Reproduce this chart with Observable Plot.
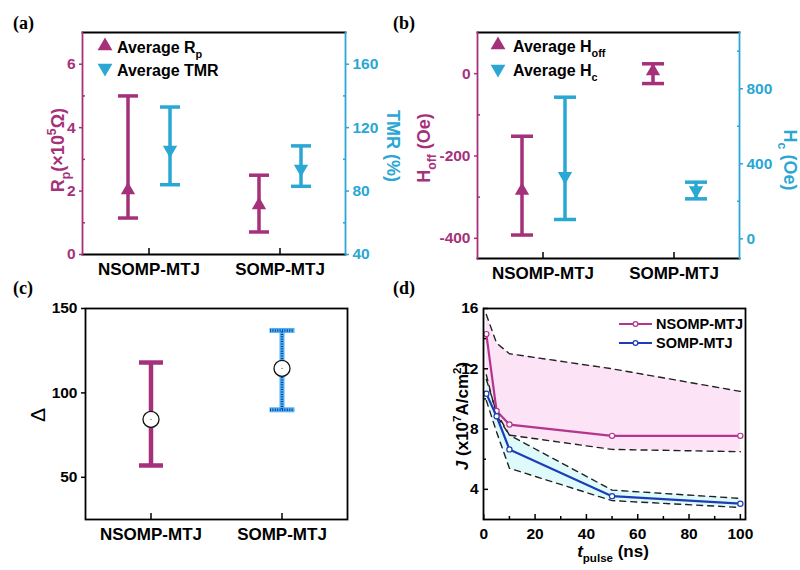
<!DOCTYPE html>
<html><head><meta charset="utf-8">
<script src="https://cdn.jsdelivr.net/npm/d3@7"></script>
<script src="https://cdn.jsdelivr.net/npm/@observablehq/plot@0.6"></script>
<style>
body{margin:0;background:#fff;}
#wrap{position:relative;width:800px;height:570px;overflow:hidden;background:#fff;}
</style></head><body><div id="wrap"></div>
<script>
// ---------- data ----------
const categories = ["NSOMP-MTJ", "SOMP-MTJ"];
// (a)
const rpAvg = [2.03, 1.56];
const rpLow = [1.15, 0.71];
const rpHigh = [5.0, 2.5];
const tmrAvg = [106, 94];
const tmrLow = [84, 83];
const tmrHigh = [133, 108.5];
const rpTicks = [0, 2, 4, 6], rpMinor = [1, 3, 5];
const tmrTicks = [40, 80, 120, 160], tmrMinor = [60, 100, 140];
// (b)
const hoffAvg = [-284, 6];
const hoffLow = [-392, -24];
const hoffHigh = [-152, 24];
const hcAvg = [334, 258];
const hcLow = [103, 213];
const hcHigh = [755, 302];
const hoffTicks = [-400, -200, 0], hoffMinor = [-300, -100];
const hcTicks = [0, 400, 800], hcMinor = [200, 600, 1000];
// (c)
const deltaAvg = [84.3, 114.5];
const deltaLow = [57, 90];
const deltaHigh = [118, 137];
const deltaTicks = [50, 100, 150];
// (d)
const tPulse = [1, 5, 10, 50, 100];
const jNsomp = [14.3, 9.2, 8.3, 7.55, 7.55];
const jSomp = [10.35, 8.85, 6.65, 3.55, 3.05];
const nsompUpper = [15.6, 13.7, 13.0, 12.0, 10.5];
const nsompLower = [11.6, 8.9, 7.6, 6.65, 6.5];
const sompUpper = [11.3, 9.1, 7.6, 3.95, 3.4];
const sompLower = [9.9, 7.8, 5.4, 3.25, 2.8];
const tTicks = [0, 20, 40, 60, 80, 100], tMinor = [10, 30, 50, 70, 90];
const jTicks = [4, 8, 12, 16], jMinor = [6, 10, 14];

// ---------- style ----------
const FONT = "'Liberation Sans', Arial, sans-serif";
const SERIF = "'Liberation Serif', 'Times New Roman', serif";
const MAG = "#a5317b", CYA = "#2aa7d3", PINK = "#b2368f", BLUE = "#1d3db7";
const wrap = document.getElementById("wrap");
const idx = [0, 1];

function place(svg, left, top) {
  Object.assign(svg.style, {position: "absolute", left: left + "px", top: top + "px", maxWidth: "none", overflow: "visible", background: "transparent"});
  wrap.appendChild(svg);
}
const base = (w, h, m) => ({
  width: w, height: h, marginLeft: m[0], marginRight: m[1], marginTop: m[2], marginBottom: m[3],
  style: {fontFamily: FONT, fontWeight: "bold", fontSize: "15.5px", background: "transparent", overflow: "visible"}
});
const cap = {draw(ctx, size) { const r = Math.sqrt(size / Math.PI); ctx.moveTo(-r, 0); ctx.lineTo(r, 0); }};
const fmt = d => String(d);

function errBar(ids, lo, hi, o) {
  const common = {x: i => categories[i], stroke: o.stroke, strokeWidth: o.strokeWidth ?? 3.5, dx: o.dx ?? 0};
  if (o.dash) common.strokeDasharray = o.dash;
  return [
    Plot.ruleX(ids, {...common, y1: i => lo[i], y2: i => hi[i]}),
    Plot.dot(ids, {...common, y: i => lo[i], symbol: cap, r: o.capR ?? 10, fill: "none"}),
    Plot.dot(ids, {...common, y: i => hi[i], symbol: cap, r: o.capR ?? 10, fill: "none"})
  ];
}
function catAxes() {
  return [
    Plot.axisX({tickSize: -6, tickFormat: () => "", label: null, color: "#000", strokeWidth: 1.5}),
    Plot.axisX({tickSize: 0, tickPadding: 8, fontSize: 17, label: null, color: "#000"})
  ];
}
function yAxes(anchor, ticks, minor, color) {
  return [
    Plot.axisY({anchor, ticks, tickSize: 3, tickPadding: 4, tickFormat: fmt, color, label: null, strokeWidth: 1.5}),
    Plot.axisY({anchor, ticks: minor, tickSize: -3, tickFormat: () => "", color, label: null, strokeWidth: 1.5})
  ];
}

// ---------- (a) ----------
const ma = [82, 55, 32, 26];
place(Plot.plot({
  ...base(400, 280, ma),
  x: {type: "band", domain: categories, padding: 0},
  y: {domain: [0, 7]},
  marks: [
    Plot.frame({anchor: "top", stroke: "#000", strokeWidth: 1.8}),
    Plot.frame({anchor: "bottom", stroke: "#000", strokeWidth: 1.8}),
    Plot.frame({anchor: "left", stroke: MAG, strokeWidth: 1.8}),
    ...catAxes(),
    ...yAxes("left", rpTicks, rpMinor, MAG),
    ...errBar(idx, rpLow, rpHigh, {stroke: MAG, dx: -21}),
    Plot.dot(idx, {x: i => categories[i], y: i => rpAvg[i], symbol: "triangle", r: 5.3, fill: MAG, dx: -21})
  ]
}), 0, 0);
place(Plot.plot({
  ...base(400, 280, ma),
  x: {type: "band", domain: categories, padding: 0, axis: null},
  y: {domain: [40, 180]},
  marks: [
    Plot.frame({anchor: "right", stroke: CYA, strokeWidth: 1.8}),
    ...yAxes("right", tmrTicks, tmrMinor, CYA),
    ...errBar(idx, tmrLow, tmrHigh, {stroke: CYA, dx: 21}),
    Plot.dot(idx, {x: i => categories[i], y: i => tmrAvg[i], symbol: "triangle", rotate: 180, r: 5.3, fill: CYA, dx: 21})
  ]
}), 0, 0);

// ---------- (b) ----------
const mb = [77, 61, 32, 22];
place(Plot.plot({
  ...base(400, 280, mb),
  x: {type: "band", domain: categories, padding: 0},
  y: {domain: [-449, 100]},
  marks: [
    Plot.frame({anchor: "top", stroke: "#000", strokeWidth: 1.8}),
    Plot.frame({anchor: "bottom", stroke: "#000", strokeWidth: 1.8}),
    Plot.frame({anchor: "left", stroke: MAG, strokeWidth: 1.8}),
    ...catAxes(),
    ...yAxes("left", hoffTicks, hoffMinor, MAG),
    ...errBar(idx, hoffLow, hoffHigh, {stroke: MAG, dx: -21, capR: 11}),
    Plot.dot(idx, {x: i => categories[i], y: i => hoffAvg[i], symbol: "triangle", r: 5.3, fill: MAG, dx: -21})
  ]
}), 400, 0);
place(Plot.plot({
  ...base(400, 280, mb),
  x: {type: "band", domain: categories, padding: 0, axis: null},
  y: {domain: [-105, 1100]},
  marks: [
    Plot.frame({anchor: "right", stroke: CYA, strokeWidth: 1.8}),
    ...yAxes("right", hcTicks, hcMinor, CYA),
    ...errBar(idx, hcLow, hcHigh, {stroke: CYA, dx: 22, capR: 11}),
    Plot.dot(idx, {x: i => categories[i], y: i => hcAvg[i], symbol: "triangle", rotate: 180, r: 5.3, fill: CYA, dx: 22})
  ]
}), 400, 0);

// ---------- (c) ----------
place(Plot.plot({
  ...base(400, 290, [85, 53, 28, 51]),
  x: {type: "band", domain: categories, padding: 0},
  y: {domain: [25, 150]},
  marks: [
    Plot.frame({stroke: "#000", strokeWidth: 1.8}),
    ...catAxes(),
    Plot.axisY({ticks: deltaTicks, tickSize: 4, tickPadding: 4, tickFormat: fmt, color: "#000", label: null, strokeWidth: 1.5}),
    ...errBar([0], deltaLow, deltaHigh, {stroke: MAG, strokeWidth: 4.5, capR: 12}),
    ...errBar([1], deltaLow, deltaHigh, {stroke: "#4db3ee", strokeWidth: 5, capR: 12.5}),
    ...errBar([1], deltaLow, deltaHigh, {stroke: "#1636a8", strokeWidth: 2.4, capR: 12, dash: "1,1.4"}),
    Plot.dot(idx, {x: i => categories[i], y: i => deltaAvg[i], r: 8, fill: "#fff", stroke: "#111", strokeWidth: 1.3}),
    Plot.dot(idx, {x: i => categories[i], y: i => deltaAvg[i], r: 0.7, fill: "#666"})
  ]
}), 0, 280);

// ---------- (d) ----------
place(Plot.plot({
  ...base(400, 290, [83, 55, 28, 51]),
  x: {domain: [-0.1, 102]},
  y: {domain: [2, 16]},
  marks: [
    Plot.areaY(tPulse, {x: tPulse, y1: nsompLower, y2: nsompUpper, fill: "#fde3f6"}),
    Plot.areaY(tPulse, {x: tPulse, y1: sompLower, y2: sompUpper, fill: "#dcfafb", fillOpacity: 0.9}),
    ...[nsompUpper, nsompLower, sompUpper, sompLower].map(arr =>
      Plot.lineY(tPulse, {x: tPulse, y: arr, stroke: "#222", strokeWidth: 1.4, strokeDasharray: "6,5"})),
    Plot.lineY(tPulse, {x: tPulse, y: jNsomp, stroke: PINK, strokeWidth: 2.2}),
    Plot.dot(tPulse, {x: tPulse, y: jNsomp, r: 2.6, fill: "#fff", stroke: PINK, strokeWidth: 1.2}),
    Plot.lineY(tPulse, {x: tPulse, y: jSomp, stroke: BLUE, strokeWidth: 2.2}),
    Plot.dot(tPulse, {x: tPulse, y: jSomp, r: 2.6, fill: "#fff", stroke: BLUE, strokeWidth: 1.2}),
    Plot.frame({stroke: "#000", strokeWidth: 1.8}),
    Plot.axisX({ticks: tTicks, tickSize: -5, tickFormat: () => "", label: null, strokeWidth: 1.5}),
    Plot.axisX({ticks: tMinor, tickSize: -3, tickFormat: () => "", label: null, strokeWidth: 1.5}),
    Plot.axisX({ticks: tTicks, tickSize: 0, tickPadding: 8, tickFormat: fmt, label: null}),
    Plot.axisY({ticks: jTicks, tickSize: -5, tickFormat: () => "", label: null, strokeWidth: 1.5}),
    Plot.axisY({ticks: jMinor, tickSize: -3, tickFormat: () => "", label: null, strokeWidth: 1.5}),
    Plot.axisY({ticks: jTicks, tickSize: 0, tickPadding: 5, tickFormat: fmt, label: null})
  ]
}), 400, 280);

// ---------- annotations overlay ----------
const ov = d3.select(wrap).append("svg").attr("width", 800).attr("height", 570)
  .style("position", "absolute").style("left", "0px").style("top", "0px")
  .attr("font-family", FONT).attr("font-weight", "bold");

function rich(x, y, parts, {rotate = 0, size = 16, fill = "#000", anchor = "middle", weight = "bold", family = FONT} = {}) {
  const t = ov.append("text").attr("transform", `translate(${x},${y}) rotate(${rotate})`)
    .attr("text-anchor", anchor).attr("font-size", size).attr("fill", fill)
    .attr("font-weight", weight).attr("font-family", family);
  let shift = 0;
  for (const p of parts) {
    const [s, kind] = Array.isArray(p) ? p : [p, ""];
    const target = kind === "sub" ? size * 0.32 : kind === "sup" ? -size * 0.42 : 0;
    const ts = t.append("tspan").text(s).attr("dy", target - shift);
    if (kind === "sub" || kind === "sup") ts.attr("font-size", size * 0.68);
    if (kind === "italic") ts.attr("font-style", "italic");
    shift = target;
  }
  return t;
}
// panel letters
[["(a)", 13, 29], ["(b)", 393, 29], ["(c)", 13, 294], ["(d)", 393, 294]].forEach(([s, x, y]) =>
  rich(x, y, [s], {size: 18, anchor: "start", family: SERIF}));
// axis titles
rich(64, 150, ["R", ["p", "sub"], "(×10", ["5", "sup"], "Ω)"], {rotate: -90, size: 18, fill: MAG});
rich(387, 146, ["TMR (%)"], {rotate: 90, size: 18, fill: CYA});
rich(430, 148, ["H", ["off", "sub"], " (Oe)"], {rotate: -90, size: 18, fill: MAG});
rich(784, 160, ["H", ["c", "sub"], " (Oe)"], {rotate: 90, size: 18, fill: CYA});
rich(45, 415, ["Δ"], {rotate: -90, size: 21, weight: "normal"});
rich(468, 416, [["J", "italic"], " (x10", ["7", "sup"], "A/cm", ["2", "sup"], ")"], {rotate: -90, size: 17});
rich(613, 557, [["t", "italic"], ["pulse", "sub"], " (ns)"], {size: 17});

// legends
const tri = d3.symbol().type(d3.symbolTriangle).size(95)();
function legTri(x, y, color, down) {
  ov.append("path").attr("d", tri).attr("fill", color)
    .attr("transform", `translate(${x},${y}) rotate(${down ? 180 : 0})`);
}
legTri(105, 46, MAG, false); legTri(105, 68, CYA, true);
rich(117, 53, ["Average R", ["p", "sub"]], {size: 16, anchor: "start"});
rich(117, 76, ["Average TMR"], {size: 16, anchor: "start"});
legTri(498, 45, MAG, false); legTri(498, 69, CYA, true);
rich(513, 52, ["Average H", ["off", "sub"]], {size: 16, anchor: "start"});
rich(513, 76, ["Average H", ["c", "sub"]], {size: 16, anchor: "start"});
[[324, PINK, "NSOMP-MTJ"], [343, BLUE, "SOMP-MTJ"]].forEach(([y, c, s]) => {
  ov.append("line").attr("x1", 619).attr("x2", 652).attr("y1", y).attr("y2", y).attr("stroke", c).attr("stroke-width", 2.2);
  ov.append("circle").attr("cx", 635.5).attr("cy", y).attr("r", 2.4).attr("fill", "#fff").attr("stroke", c).attr("stroke-width", 1.2);
  rich(656, y + 5, [s], {size: 14.5, anchor: "start"});
});
</script></body></html>
